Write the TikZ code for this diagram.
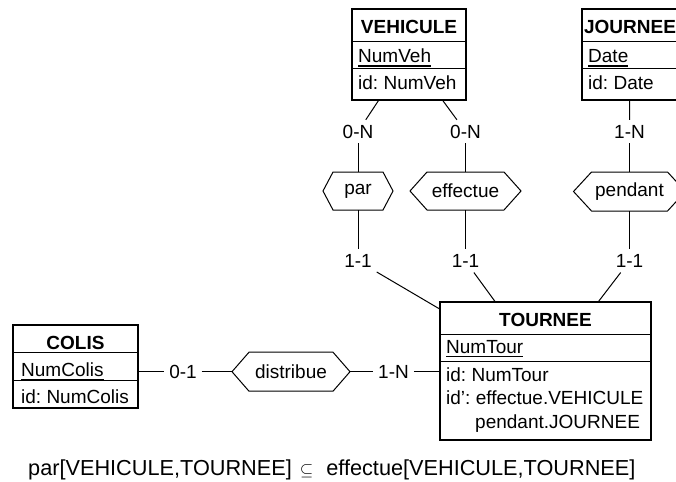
\documentclass[tikz,border=0pt]{standalone}
\usepackage{fontspec}
\setmainfont{Liberation Sans}
\newcommand\dtext{\fontsize{19}{23}\selectfont\frenchspacing}
\newcommand\ctext{\fontsize{21.7}{26}\selectfont\frenchspacing}
\newcommand\ulkey[1]{\setbox0=\hbox{#1}\rlap{\rule[-3.6pt]{\wd0}{1.1pt}}\box0}
\newcommand\hexa[2]{\draw[link] ([xshift=-#2]#1.west) -- (#1.north west) -- (#1.north east) -- ([xshift=#2]#1.east) -- (#1.south east) -- (#1.south west) -- cycle;}
\tikzset{
  box/.style={draw, line width=1.1pt, inner sep=0pt, outer sep=0pt},
  hexnode/.style={inner sep=0pt, outer sep=0pt, font=\dtext},
  card/.style={inner sep=5pt, outer sep=0pt, font=\dtext},
  txt/.style={inner sep=0pt, anchor=base west, font=\dtext},
  ttl/.style={inner sep=0pt, anchor=base, font=\dtext\bfseries},
  link/.style={line width=1pt},
}
\begin{document}
\frenchspacing
\begin{tikzpicture}[x=1pt,y=-1pt]
\useasboundingbox (0,0) rectangle (676,481);
\clip (0,0) rectangle (676,481);

% VEHICULE
\node[box, minimum width=114pt, minimum height=91pt] (veh) at (409,54.5) {};
\draw[link] (veh.west |- 0,42) -- (veh.east |- 0,42);
\draw[link] (veh.west |- 0,69) -- (veh.east |- 0,69);
\node[ttl] (vehT) at (409,34) {VEHICULE};
\node[txt] (vehA) at (358,63) {\ulkey{NumVeh}};
\node[txt] (vehI) at (358,90) {id: NumVeh};

% JOURNEE
\node[box, minimum width=96pt, minimum height=91pt] (jour) at (630,54.5) {};
\draw[link] (jour.west |- 0,42) -- (jour.east |- 0,42);
\draw[link] (jour.west |- 0,69) -- (jour.east |- 0,69);
\node[ttl] (jourT) at (630,34) {JOURNEE};
\node[txt] (jourA) at (588,63) {\ulkey{Date}};
\node[txt] (jourI) at (588,90) {id: Date};

% TOURNEE
\node[box, minimum width=211pt, minimum height=138pt] (tour) at (545.5,371) {};
\draw[link] (tour.west |- 0,334) -- (tour.east |- 0,334);
\draw[link] (tour.west |- 0,361) -- (tour.east |- 0,361);
\node[ttl] (tourT) at (545.5,326) {TOURNEE};
\node[txt] (tourA) at (446,353) {\ulkey{NumTour}};
\node[txt] (tourI) at (446,381) {id: NumTour};
\node[txt] (tourJ) at (446,404.5) {id\symbol{39}: effectue.VEHICULE};
\node[txt] (tourK) at (475,428) {pendant.JOURNEE};

% COLIS
\node[box, minimum width=125pt, minimum height=83pt] (colis) at (75.5,366.5) {};
\draw[link] (colis.west |- 0,352) -- (colis.east |- 0,352);
\draw[link] (colis.west |- 0,380) -- (colis.east |- 0,380);
\node[ttl] (colisT) at (75.5,349) {COLIS};
\node[txt] (colisA) at (21,376) {\ulkey{NumColis}};
\node[txt] (colisI) at (21,403) {id: NumColis};

% relationships
\node[hexnode, minimum width=50pt, minimum height=38pt] (par) at (358,191) {par};
\hexa{par}{10pt}
\node[hexnode, minimum width=77pt, minimum height=38pt] (eff) at (465.5,191) {effectue};
\hexa{eff}{17pt}
\node[hexnode, minimum width=76pt, minimum height=39pt] (pend) at (629.5,191.5) {pendant};
\hexa{pend}{18pt}
\node[hexnode, minimum width=84pt, minimum height=39pt] (dist) at (291,371.7) {distribue};
\hexa{dist}{17pt}
\coordinate (distW) at ([xshift=-17pt]dist.west);
\coordinate (distE) at ([xshift=17pt]dist.east);

% cardinalities
\node[card] (l0Nv) at (358,131.5) {0-N};
\node[card] (l0Ne) at (465.5,131.5) {0-N};
\node[card] (l1Nj) at (629.5,131.5) {1-N};
\node[card] (l11p) at (358,261) {1-1};
\node[card] (l11e) at (465.5,261) {1-1};
\node[card] (l11j) at (629.5,261) {1-1};
\node[card] (l01) at (183,371.7) {0-1};
\node[card] (l1N) at (393.5,371.7) {1-N};

% connectors
\draw[link] (veh) -- (l0Nv);
\draw[link] (veh) -- (l0Ne);
\draw[link] (l0Nv) -- (par);
\draw[link] (l0Ne) -- (eff);
\draw[link] (par) -- (l11p);
\draw[link] (eff) -- (l11e);
\draw[link] (l11p) -- (tour);
\draw[link] (l11e) -- (tour);
\draw[link] (jour) -- (l1Nj);
\draw[link] (l1Nj) -- (pend);
\draw[link] (pend) -- (l11j);
\draw[link] (l11j) -- (tour);
\draw[link] (l01 -| colis.east) -- (l01);
\draw[link] (l01) -- (distW);
\draw[link] (distE) -- (l1N);
\draw[link] (l1N) -- (l1N -| tour.west);

% constraint
\node[anchor=base west, inner sep=0pt, font=\ctext] (cons) at (28,475) {par[VEHICULE,TOURNEE]\hspace{8pt}{\fontsize{17}{20}\selectfont$\subseteq$}\hspace{13pt}effectue[VEHICULE,TOURNEE]};
\end{tikzpicture}
\end{document}
